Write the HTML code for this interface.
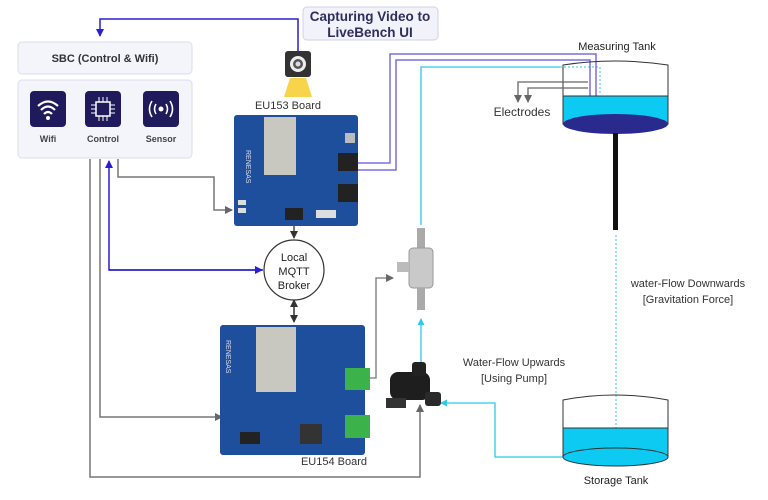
<!DOCTYPE html>
<html><head><meta charset="utf-8"><style>
body{margin:0;background:#fff;}
svg{display:block;font-family:"Liberation Sans",sans-serif;}
</style></head><body>
<svg width="768" height="500" viewBox="0 0 768 500" xmlns="http://www.w3.org/2000/svg">
<defs>
<marker id="ag" markerWidth="8" markerHeight="8" refX="7" refY="4" orient="auto" markerUnits="userSpaceOnUse"><path d="M0,0 L8,4 L0,8z" fill="#666"/></marker>
<marker id="ab" markerWidth="8" markerHeight="8" refX="7" refY="4" orient="auto" markerUnits="userSpaceOnUse"><path d="M0,0 L8,4 L0,8z" fill="#2a1fd0"/></marker>
<marker id="ac" markerWidth="7" markerHeight="7" refX="6" refY="3.5" orient="auto" markerUnits="userSpaceOnUse"><path d="M0,0 L7,3.5 L0,7z" fill="#2ec8e8"/></marker>
<marker id="ak" markerWidth="8" markerHeight="8" refX="7" refY="4" orient="auto" markerUnits="userSpaceOnUse"><path d="M0,0 L8,4 L0,8z" fill="#333"/></marker>
</defs>

<!-- caption -->
<rect x="303" y="7" width="135" height="33" rx="4" fill="#f2f2fb" stroke="#d0d0ea"/>
<text x="370" y="21" font-size="13.5" font-weight="bold" fill="#2e2e5c" text-anchor="middle">Capturing Video to</text>
<text x="370" y="37" font-size="13.5" font-weight="bold" fill="#2e2e5c" text-anchor="middle">LiveBench UI</text>
<polyline points="298,51 298,19 100,19 100,36" fill="none" stroke="#2a1fd0" stroke-width="1.5" marker-end="url(#ab)"/>

<!-- SBC -->
<rect x="18" y="42" width="174" height="32" rx="4" fill="#f4f4fb" stroke="#dcdcee"/>
<text x="105" y="62" font-size="11" font-weight="bold" fill="#333" text-anchor="middle">SBC (Control &amp; Wifi)</text>
<rect x="18" y="80" width="174" height="78" rx="4" fill="#f4f4fb" stroke="#dcdcee"/>
<rect x="30" y="91" width="36" height="36" rx="4" fill="#1f1a5c"/>
<rect x="85" y="91" width="36" height="36" rx="4" fill="#1f1a5c"/>
<rect x="143" y="91" width="36" height="36" rx="4" fill="#1f1a5c"/>
<path d="M38,106 Q48,97 58,106 M41,110 Q48,103 55,110 M44,114 Q48,110 52,114" stroke="#fff" stroke-width="2.2" fill="none"/>
<circle cx="48" cy="118" r="2" fill="#fff"/>
<rect x="96" y="102" width="14" height="14" fill="none" stroke="#fff" stroke-width="1.5"/>
<path d="M99,102v-5M103,102v-5M107,102v-5M99,116v5M103,116v5M107,116v5M96,105h-5M96,109h-5M96,113h-5M110,105h5M110,109h5M110,113h5" stroke="#fff" stroke-width="1"/>
<circle cx="161" cy="109" r="2.5" fill="#fff"/>
<path d="M156,104 Q153,109 156,114 M166,104 Q169,109 166,114 M152,101 Q147,109 152,117 M170,101 Q175,109 170,117" stroke="#fff" stroke-width="1.6" fill="none"/>
<text x="48" y="142" font-size="9" font-weight="bold" fill="#444" text-anchor="middle">Wifi</text>
<text x="103" y="142" font-size="9" font-weight="bold" fill="#444" text-anchor="middle">Control</text>
<text x="161" y="142" font-size="9" font-weight="bold" fill="#444" text-anchor="middle">Sensor</text>

<!-- SBC lines -->
<polyline points="90,159 90,477 420,477 420,405" fill="none" stroke="#777" stroke-width="1.5" marker-end="url(#ag)"/>
<polyline points="100,159 100,417 222,417" fill="none" stroke="#777" stroke-width="1.5" marker-end="url(#ag)"/>
<polyline points="263,270 109,270 109,161" fill="none" stroke="#2a1fd0" stroke-width="1.5" marker-end="url(#ab)"/>
<polyline points="109,270 262,270" fill="none" stroke="#2a1fd0" stroke-width="1.5" marker-end="url(#ab)"/>
<polyline points="118,159 118,177 214,177 214,210 232,210" fill="none" stroke="#777" stroke-width="1.5" marker-end="url(#ag)"/>

<!-- camera -->
<path d="M290,78 L306,78 L312,97 L284,97z" fill="#f7d44a"/>
<rect x="285" y="51" width="26" height="26" rx="3" fill="#333"/>
<circle cx="298" cy="64" r="8" fill="#eee"/><circle cx="298" cy="64" r="5" fill="#555"/><circle cx="298" cy="64" r="2.5" fill="#ddd"/>
<text x="288" y="109" font-size="11" fill="#333" text-anchor="middle">EU153 Board</text>

<!-- EU153 board -->
<rect x="234" y="115" width="124" height="111" rx="3" fill="#1e4f9c"/>
<rect x="264" y="117" width="32" height="58" fill="#c8c8c0"/>
<rect x="338" y="153" width="20" height="18" fill="#222"/>
<rect x="338" y="184" width="20" height="18" fill="#222"/>
<rect x="345" y="133" width="10" height="10" fill="#bbb"/>
<rect x="285" y="208" width="18" height="12" fill="#222"/>
<rect x="316" y="210" width="20" height="8" fill="#ddd"/>
<rect x="238" y="200" width="8" height="5" fill="#ddd"/><rect x="238" y="208" width="8" height="5" fill="#ddd"/>
<text x="246" y="150" font-size="7" fill="#dde" transform="rotate(90 246 150)">RENESAS</text>

<!-- MQTT -->
<line x1="294" y1="226" x2="294" y2="238" stroke="#333" stroke-width="1.3" marker-end="url(#ak)"/>
<line x1="294" y1="302" x2="294" y2="322" stroke="#333" stroke-width="1.3" marker-end="url(#ak)"/>
<line x1="294" y1="320" x2="294" y2="300" stroke="#333" stroke-width="1.3" marker-end="url(#ak)"/>
<ellipse cx="294" cy="270" rx="30" ry="30" fill="#fff" stroke="#333" stroke-width="1.2"/>
<text x="294" y="261" font-size="11" fill="#222" text-anchor="middle">Local</text>
<text x="294" y="275" font-size="11" fill="#222" text-anchor="middle">MQTT</text>
<text x="294" y="289" font-size="11" fill="#222" text-anchor="middle">Broker</text>

<!-- EU154 board -->
<rect x="220" y="325" width="145" height="130" rx="3" fill="#1e4f9c"/>
<rect x="256" y="327" width="40" height="65" fill="#c8c8c0"/>
<rect x="345" y="368" width="25" height="22" fill="#3cb34a"/>
<rect x="345" y="415" width="25" height="23" fill="#3cb34a"/>
<rect x="300" y="424" width="22" height="20" fill="#333"/>
<rect x="240" y="432" width="20" height="12" fill="#222"/>
<text x="226" y="340" font-size="7" fill="#dde" transform="rotate(90 226 340)">RENESAS</text>
<text x="334" y="465" font-size="11" fill="#333" text-anchor="middle">EU154 Board</text>

<!-- connector to valve -->
<polyline points="370,378 376,378 376,278 393,278" fill="none" stroke="#777" stroke-width="1.3" marker-end="url(#ag)"/>

<!-- valve -->
<rect x="417" y="228" width="8" height="20" fill="#aaa"/>
<rect x="409" y="248" width="24" height="40" rx="4" fill="#c9c9c9" stroke="#999"/>
<rect x="397" y="262" width="12" height="10" fill="#bbb"/>
<rect x="417" y="288" width="8" height="22" fill="#aaa"/>
<!-- cyan lines -->
<polyline points="421,225 421,67 560,67" fill="none" stroke="#2ec8e8" stroke-width="1.3"/>
<polyline points="560,67 600,67 600,94" fill="none" stroke="#2ec8e8" stroke-width="1" stroke-dasharray="2,2"/>
<line x1="421" y1="362" x2="421" y2="319" stroke="#2ec8e8" stroke-width="1.3" marker-end="url(#ac)"/>
<polyline points="563,457 495,457 495,403 441,403" fill="none" stroke="#2ec8e8" stroke-width="1.3" marker-end="url(#ac)"/>

<!-- pump -->
<rect x="390" y="372" width="40" height="28" rx="8" fill="#1e1e1e"/>
<rect x="412" y="362" width="14" height="14" rx="3" fill="#222"/>
<rect x="425" y="392" width="16" height="14" rx="3" fill="#2a2a2a"/>
<rect x="386" y="398" width="20" height="10" fill="#333"/>

<!-- purple lines -->
<polyline points="358,163 390,163 390,54 596,54 596,130" fill="none" stroke="#7b6ee2" stroke-width="1.5"/>
<polyline points="358,170 396,170 396,60 590,60 590,130" fill="none" stroke="#7b6ee2" stroke-width="1.5"/>

<!-- measuring tank -->
<rect x="563" y="96" width="105" height="28" fill="#0ccaf2"/>
<path d="M563,65 Q615,57 668,65 L668,124 L563,124z" fill="none" stroke="#333" stroke-width="1"/>
<line x1="563" y1="96" x2="668" y2="96" stroke="#333" stroke-width="1"/>
<ellipse cx="615.5" cy="124" rx="52.5" ry="10" fill="#2a2a8e"/>
<rect x="613" y="133" width="5" height="97" fill="#111"/>
<polyline points="588,82 518,82 518,102" fill="none" stroke="#666" stroke-width="1.3" marker-end="url(#ag)"/>
<polyline points="588,88 528,88 528,102" fill="none" stroke="#666" stroke-width="1.3" marker-end="url(#ag)"/>
<text x="522" y="116" font-size="12" fill="#333" text-anchor="middle">Electrodes</text>
<text x="617" y="50" font-size="11" fill="#222" text-anchor="middle">Measuring Tank</text>

<!-- dotted downflow -->
<line x1="616" y1="235" x2="616" y2="428" stroke="#2ec8e8" stroke-width="1" stroke-dasharray="2,2"/>
<text x="688" y="287" font-size="11" fill="#333" text-anchor="middle">water-Flow Downwards</text>
<text x="688" y="303" font-size="11" fill="#333" text-anchor="middle">[Gravitation Force]</text>
<text x="514" y="366" font-size="11" fill="#333" text-anchor="middle">Water-Flow Upwards</text>
<text x="514" y="382" font-size="11" fill="#333" text-anchor="middle">[Using Pump]</text>

<!-- storage tank -->
<rect x="563" y="428" width="105" height="29" fill="#0ccaf2"/>
<path d="M563,400 Q615,390 668,400 L668,457 L563,457z" fill="none" stroke="#333" stroke-width="1"/>
<line x1="563" y1="428" x2="668" y2="428" stroke="#333" stroke-width="1"/>
<ellipse cx="615.5" cy="457" rx="52.5" ry="9" fill="#0ccaf2" stroke="#333" stroke-width="1"/>
<text x="616" y="484" font-size="11" fill="#222" text-anchor="middle">Storage Tank</text>
</svg>
</body></html>
